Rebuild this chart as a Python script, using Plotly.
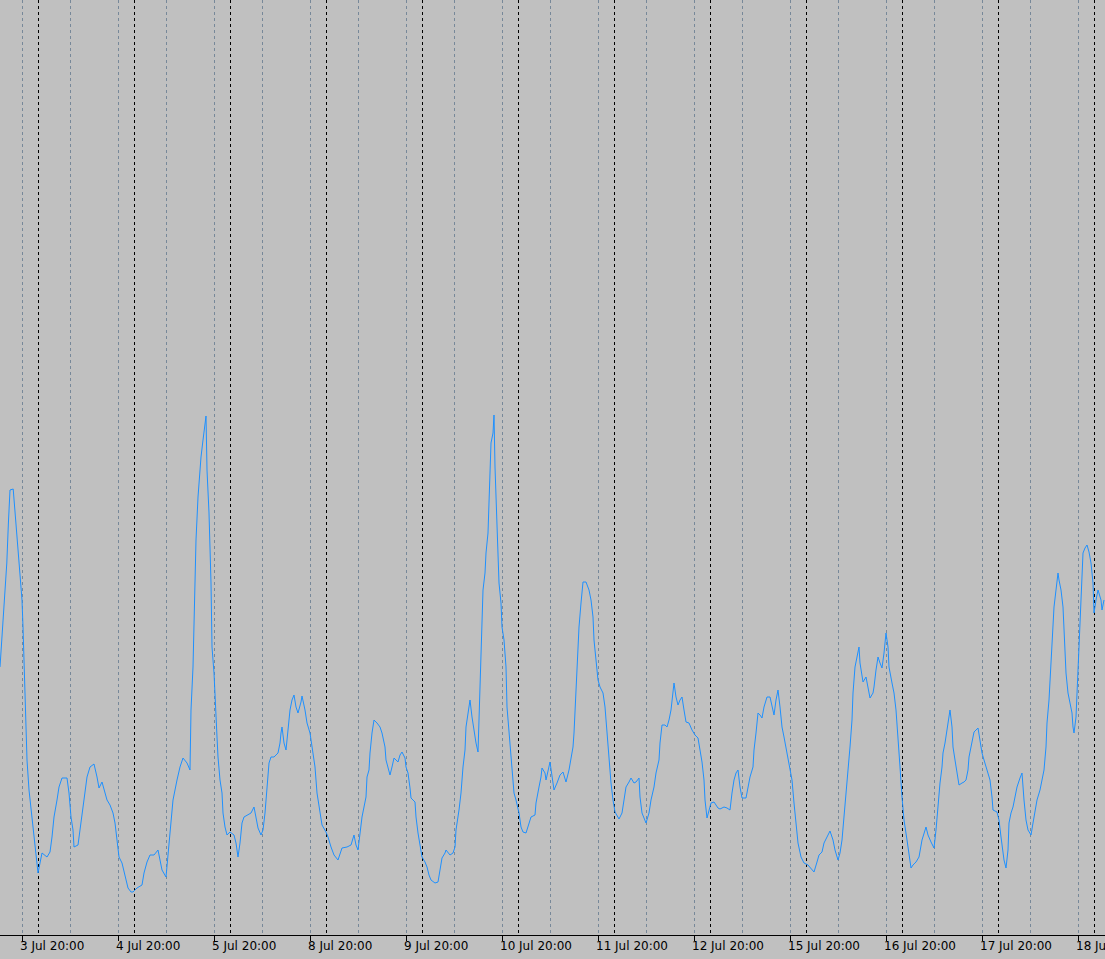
import plotly.graph_objects as go

# Hours elapsed since 3 Jul 20:00 (trading hours only, weekends skipped)
hours = [
    -5.5, -4.7, -4.25, -3.8, -3.4, -3.0, -2.2, -1.75, -1.0, -0.25, 0, 0.25, 0.5, 0.75, 1.0, 1.25, 1.75,
    2.5, 2.75, 3.25, 3.75, 4.0, 4.5, 5.0, 6.25, 7.0, 7.5, 8.0, 8.75, 9.25, 10.0, 11.25, 11.75, 12.25,
    12.75, 13.0, 14.0, 14.5, 15.0, 15.75, 16.25, 17.0, 18.0, 18.75, 19.25, 20.0, 20.5, 21.25, 22.0,
    22.75, 23.25, 23.75, 24.25, 25.0, 25.75, 26.5, 27.25, 27.75, 28.75, 30.0, 30.5, 31.25, 32.0, 33.0,
    34.0, 35.0, 36.0, 36.25, 37.0, 37.75, 38.75, 39.5, 40.25, 41.25, 42.0, 42.25, 42.75, 43.25, 43.5,
    44.0, 44.5, 44.75, 45.25, 45.75, 46.0, 46.25, 46.75, 47.25, 47.5, 48.0, 48.25, 48.75, 49.0, 49.5,
    50.0, 50.25, 50.75, 51.25, 52.0, 53.0, 53.5, 54.0, 54.5, 55.0, 55.5, 56.25, 57.25, 58.0, 58.5, 59.0,
    59.75, 60.25, 60.75, 61.25, 61.75, 62.25, 63.0, 64.0, 64.5, 64.75, 65.0, 65.5, 66.0, 66.5, 67.0,
    67.5, 68.0, 68.5, 69.0, 69.75, 70.0, 70.75, 71.25, 72.0, 72.5, 73.25, 73.75, 74.5, 75.0, 76.0, 76.5,
    77.25, 78.0, 79.0, 79.5, 80.0, 81.25, 82.25, 83.0, 83.5, 84.0, 84.5, 85.0, 86.0, 86.25, 86.75, 87.0,
    87.5, 88.0, 88.75, 89.5, 90.0, 90.75, 91.0, 91.5, 92.0, 92.5, 93.0, 94.0, 94.5, 95.0, 95.75, 96.0,
    96.5, 97.0, 97.25, 98.25, 98.5, 99.0, 99.5, 100.0, 100.75, 101.25, 101.75, 102.25, 103.25, 104.0,
    104.5, 105.0, 105.75, 106.0, 107.0, 107.75, 108.25, 108.5, 109.25, 109.75, 110.25, 110.75, 111.0,
    111.75, 112.0, 112.5, 113.0, 113.5, 114.0, 114.5, 114.75, 115.0, 115.25, 115.75, 116.0, 116.5,
    117.0, 117.25, 117.75, 118.0, 118.25, 118.75, 119.25, 119.75, 120.0, 120.5, 121.0, 121.25, 122.0,
    122.5, 123.0, 123.5, 124.25, 124.75, 125.25, 126.0, 126.75, 127.25, 128.25, 128.5, 129.25, 129.75,
    130.0, 130.75, 131.0, 131.5, 132.0, 132.5, 133.0, 133.75, 134.5, 135.25, 136.0, 136.75, 137.25,
    137.75, 138.0, 138.5, 139.0, 139.25, 139.75, 140.25, 141.0, 141.75, 142.25, 142.75, 143.0, 143.5,
    144.0, 144.5, 145.25, 145.75, 146.0, 146.5, 147.0, 147.25, 147.75, 148.25, 149.25, 150.0, 150.5,
    151.0, 151.75, 152.25, 153.0, 153.5, 154.25, 154.5, 155.0, 155.5, 156.0, 156.75, 157.25, 158.0,
    158.5, 159.25, 159.5, 160.0, 160.75, 161.25, 161.75, 162.25, 162.75, 163.0, 163.5, 164.0, 164.5,
    165.0, 165.5, 166.0, 166.75, 167.5, 168.25, 169.0, 169.5, 170.0, 170.5, 170.75, 171.25, 171.75,
    172.25, 173.0, 174.0, 174.5, 175.5, 176.25, 177.0, 177.5, 178.0, 178.5, 179.0, 179.5, 180.0, 181.0,
    181.5, 182.0, 182.75, 183.0, 183.5, 184.0, 184.5, 185.0, 185.5, 186.25, 187.0, 187.5, 188.0, 188.5,
    189.0, 189.5, 190.0, 190.5, 191.0, 191.5, 192.0, 192.5, 193.0, 193.5, 194.0, 194.75, 195.5, 196.5,
    197.25, 198.0, 198.75, 199.25, 200.0, 200.5, 201.25, 202.0, 202.75, 203.25, 204.0, 204.5, 205.0,
    205.5, 206.25, 206.75, 207.0, 207.5, 207.75, 208.25, 208.75, 209.25, 209.5, 210.25, 211.0, 211.5,
    212.0, 212.75, 213.0, 213.5, 214.0, 214.5, 215.0, 215.5, 216.0, 216.5, 216.75, 217.5, 218.0, 218.5,
    219.25, 219.5, 220.0, 220.5, 221.25, 221.75, 222.25, 222.75, 223.5, 224.25, 224.75, 225.0, 226.0,
    226.5, 227.25, 228.0, 228.5, 228.75, 229.0, 229.5, 230.0, 230.25, 230.75, 231.25, 231.5, 232.0,
    232.5, 232.75, 233.25, 233.75, 234.25, 235.0, 235.5, 236.0, 236.5, 236.75, 237.25, 237.75, 238.0,
    239.0, 239.5, 240.0, 240.5, 241.0, 241.5, 242.0, 242.5, 242.75, 243.75, 244.25, 244.75, 245.25,
    245.5, 246.0, 246.5, 246.75, 247.25, 247.75, 248.25, 248.75, 249.5, 250.0, 250.5, 251.0, 251.5,
    252.25, 252.75, 253.25, 253.75, 254.5, 255.0, 255.5, 256.0, 256.25, 256.75, 257.25, 257.75, 258.0,
    258.5, 259.0, 259.25, 259.75, 260.25, 260.5, 261.0, 261.5, 262.0, 262.5, 262.75, 263.0, 263.5,
    263.75, 264.0, 264.5, 265.0, 265.25, 265.75, 266.25, 266.75, 267.25, 267.75, 268.0, 268.5, 269.0,
    269.75, 270.0, 270.5,
]

values = [
    26.8, 32.2, 34.2, 37.2, 41.2, 44.5, 44.6, 42.5, 38.5, 35.2, 33.5, 30.8, 27.2, 23.5, 20.2, 17.5, 14.5,
    11.8, 10.5, 8.8, 7.2, 6.2, 7.2, 8.2, 7.8, 8.3, 9.8, 11.8, 13.5, 14.8, 15.7, 15.7, 14.2, 11.8,
    10.5, 8.8, 9.0, 10.5, 12.2, 14.2, 15.8, 16.8, 17.1, 15.8, 14.7, 15.3, 14.5, 13.5, 13.0,
    12.2, 11.2, 9.5, 7.8, 7.2, 5.8, 4.7, 4.3, 4.3, 4.7, 5.0, 6.2, 7.3, 8.0, 8.0,
    8.5, 6.5, 5.8, 7.0, 10.2, 13.5, 15.5, 16.8, 17.7, 17.2, 16.5, 22.5, 26.8, 34.2, 39.5,
    43.8, 46.5, 47.8, 49.5, 50.8, 51.9, 46.5, 42.2, 35.2, 28.8, 26.2, 23.5, 19.8, 17.8, 15.5,
    14.2, 12.2, 10.8, 10.0, 10.3, 10.0, 9.2, 7.8, 9.2, 11.2, 11.8, 12.0, 12.2, 12.8, 11.8, 10.7,
    10.0, 10.5, 12.2, 15.2, 17.2, 17.8, 17.8, 18.2, 19.2, 20.2, 20.8, 19.2, 18.5, 20.5, 22.5,
    23.5, 24.0, 22.8, 22.2, 23.3, 23.9, 22.5, 21.2, 20.2, 18.8, 16.8, 14.2, 12.2, 11.0, 10.3, 9.8,
    8.8, 8.0, 7.5, 8.0, 8.7, 8.8, 9.0, 10.0, 9.0, 8.5, 10.2, 11.8, 13.8, 15.8, 16.5, 18.2,
    20.2, 21.5, 21.2, 20.8, 20.2, 18.8, 17.5, 16.8, 16.0, 16.8, 17.7, 17.3, 18.0, 18.3, 17.7, 16.8,
    16.2, 14.7, 13.7, 13.3, 11.8, 10.2, 8.8, 7.8, 7.3, 6.8, 6.0, 5.5, 5.2, 5.3,
    6.5, 7.7, 8.2, 8.5, 8.0, 8.2, 8.8, 10.5, 12.5, 14.2, 16.8, 18.5, 20.8,
    22.8, 23.5, 21.8, 20.2, 19.2, 18.3, 24.2, 28.2, 32.2, 34.5, 36.2, 38.2, 40.2,
    45.5, 49.2, 50.2, 52.0, 46.8, 41.8, 35.2, 33.2, 30.8, 29.5, 26.8, 22.8, 18.8,
    16.2, 14.2, 13.5, 12.2, 10.8, 10.3, 10.2, 11.2, 11.8, 12.0, 13.2, 14.8, 15.8,
    16.7, 16.2, 15.5, 16.5, 17.3, 15.9, 14.5, 15.2, 16.0, 16.3, 15.3, 16.5, 17.8,
    18.8, 20.2, 24.8, 28.2, 30.8, 33.2, 35.3, 35.3, 34.5, 33.5, 31.8, 29.5, 27.5,
    25.5, 24.8, 24.2, 22.8, 21.5, 19.2, 16.8, 15.2, 13.5, 12.3, 11.6, 12.2, 13.5,
    14.8, 15.3, 15.7, 15.2, 15.3, 15.7, 13.8, 12.2, 11.7, 11.2, 12.2, 13.5, 14.8,
    16.2, 17.5, 19.2, 21.0, 21.0, 20.8, 21.5, 22.5, 24.2, 25.2, 23.8, 23.0, 23.5,
    23.8, 22.5, 21.3, 21.2, 20.5, 20.0, 19.7, 18.5, 17.3, 15.5, 13.5, 11.7, 12.5,
    13.2, 13.3, 12.7, 12.6, 12.8, 12.7, 12.5, 14.2, 15.5, 16.2, 16.5, 14.8, 13.7, 13.7,
    14.8, 15.8, 16.8, 18.5, 20.2, 22.2, 22.0, 21.7, 22.8, 23.8, 23.8, 22.8, 22.0, 23.5,
    24.5, 22.8, 20.8, 19.8, 18.8, 17.5, 16.8, 15.5, 13.2, 11.2, 9.2, 7.8, 7.2, 7.0,
    6.7, 6.3, 7.3, 8.0, 8.3, 9.2, 9.8, 10.4, 9.5, 8.5, 7.5, 8.2, 9.5,
    11.8, 14.5, 16.8, 18.8, 21.5, 24.2, 26.8, 27.8, 28.8, 27.2, 25.3, 25.8, 24.8,
    23.7, 24.2, 24.8, 26.5, 27.8, 27.2, 26.7, 28.2, 30.2, 28.8, 26.8, 25.2, 24.2, 22.5,
    18.8, 16.8, 13.8, 11.5, 9.5, 8.2, 6.7, 7.0, 7.3, 7.8, 8.8, 9.5, 10.8,
    10.0, 9.3, 8.7, 10.5, 11.8, 13.2, 15.2, 16.8, 18.2, 19.2, 20.5, 21.5, 22.5,
    20.8, 18.8, 17.5, 16.2, 15.0, 15.2, 15.3, 15.5, 16.5, 17.8, 18.8, 19.8, 20.3,
    20.7, 19.5, 18.2, 17.5, 16.8, 16.2, 15.5, 13.8, 12.5, 12.3, 11.5, 9.8, 8.5,
    7.5, 6.7, 8.5, 11.2, 12.2, 12.8, 13.8, 14.8, 15.7, 16.2, 13.5, 11.5, 10.5,
    10.0, 11.2, 12.5, 13.5, 14.5, 15.5, 16.5, 18.8, 21.2, 23.5, 27.8, 30.8, 32.8,
    34.5, 36.2, 35.5, 34.5, 32.8, 30.2, 26.2, 24.2, 23.2, 22.2, 20.8, 20.2, 21.8,
    24.2, 26.5, 30.2, 36.2, 38.2, 38.7, 39.0, 38.3, 37.2, 35.2, 32.2, 33.5, 34.5,
    33.5, 32.5, 33.5,
]

# Axis tick labels (one per trading day, at 20:00)
tick_hours = [0, 24, 48, 72, 96, 120, 144, 168, 192, 216, 240, 264]
tick_labels = [
    "3 Jul 20:00", "4 Jul 20:00", "5 Jul 20:00", "8 Jul 20:00", "9 Jul 20:00",
    "10 Jul 20:00", "11 Jul 20:00", "12 Jul 20:00", "15 Jul 20:00", "16 Jul 20:00",
    "17 Jul 20:00", "18 Jul 20:00",
]

x_range = [-5.5, 270.75]
y_range = [0, 93.5]

fig = go.Figure()
fig.add_trace(go.Scatter(
    x=hours, y=values, mode="lines",
    line=dict(color="#1E90FF", width=1),
    hoverinfo="skip", showlegend=False,
))
# invisible helper trace so the day-separator axis is drawn
fig.add_trace(go.Scatter(
    x=[hours[0]], y=[values[0]], xaxis="x2", mode="markers",
    marker=dict(opacity=0), hoverinfo="skip", showlegend=False,
))

fig.update_layout(
    width=1105, height=959,
    margin=dict(l=0, r=0, t=0, b=24, autoexpand=False),
    paper_bgcolor="#C0C0C0", plot_bgcolor="#C0C0C0",
    font=dict(family="DejaVu Sans", size=12, color="#000000"),
    xaxis=dict(
        range=x_range, automargin=False,
        tickmode="array", tickvals=tick_hours, ticktext=tick_labels,
        ticklabelposition="outside right", ticklabeloverflow="allow",
        ticklabelshift=-3,
        showgrid=True, gridcolor="#778899", gridwidth=1, griddash="3px,3px",
        minor=dict(tickmode="linear", tick0=0, dtick=12, showgrid=True,
                   gridcolor="#778899", gridwidth=1, griddash="3px,3px", ticks=""),
        showline=True, linecolor="#000000", linewidth=1,
        ticks="outside", ticklen=5, tickcolor="#000000", tickwidth=1,
        zeroline=False, fixedrange=True,
        tickfont=dict(family="DejaVu Sans", size=12, color="#000000"),
    ),
    xaxis2=dict(
        range=x_range, overlaying="x", side="bottom", automargin=False,
        tickmode="linear", tick0=4, dtick=24,
        showgrid=True, gridcolor="#000000", gridwidth=1, griddash="3px,3px",
        showticklabels=False, ticks="", showline=False, zeroline=False,
    ),
    yaxis=dict(
        range=y_range, showgrid=False, showticklabels=False, ticks="",
        zeroline=False, showline=False, fixedrange=True, automargin=False,
    ),
)

fig.write_html(
    "out.html",
    config={"displayModeBar": False},
    post_script="document.body.style.margin='0';document.body.style.background='#C0C0C0';",
)
